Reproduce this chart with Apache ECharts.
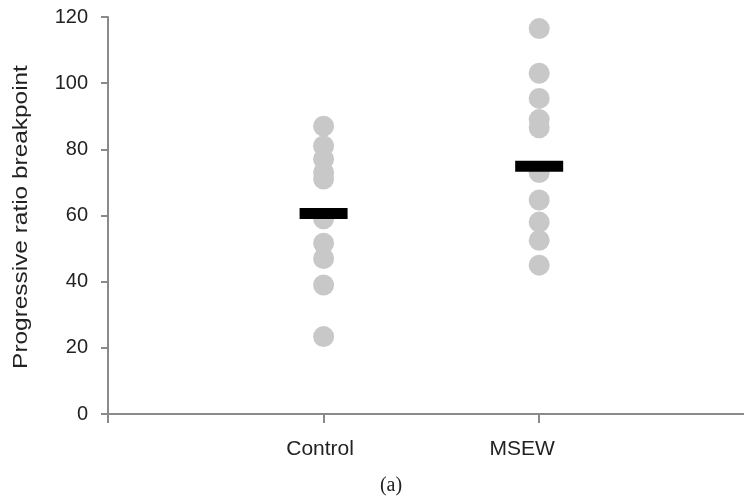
<!DOCTYPE html>
<html>
<head>
<meta charset="utf-8">
<script src="https://cdn.jsdelivr.net/npm/echarts@6/dist/echarts.min.js"></script>
<style>html,body{margin:0;padding:0;background:#fff}#c{width:744px;height:500px}</style>
</head>
<body>
<div id="c"></div>
<script>
const categories = ['Control', 'MSEW'];
const controlValues = [87, 81, 77, 73, 71, 59, 51.6, 47, 39, 23.4];
const msewValues = [116.5, 103, 95.4, 89, 86.5, 73, 64.7, 58, 52.5, 45];
const groupMeans = [60.6, 74.9];
const yTicks = [0, 20, 40, 60, 80, 100, 120];

const dotData = [];
controlValues.forEach(v => dotData.push([1, v]));
msewValues.forEach(v => dotData.push([2, v]));
const meanData = groupMeans.map((v, i) => [i + 1, v]);

const SANS = 'Liberation Sans, Arial, sans-serif';
const chart = echarts.init(document.getElementById('c'));
chart.setOption({
  animation: false,
  backgroundColor: '#fff',
  grid: { left: 108, right: 0, top: 17, bottom: 86 },
  xAxis: {
    type: 'value', min: 0, max: 2.95, interval: 1,
    splitLine: { show: false },
    axisLine: { lineStyle: { color: '#8a8a8a', width: 2 } },
    axisTick: { show: true, length: 9, customValues: [0, 1, 2], lineStyle: { color: '#8a8a8a', width: 2 } },
    axisLabel: {
      customValues: [1, 2],
      margin: 25, fontSize: 21, color: '#222', fontFamily: SANS,
      formatter: v => {
        const i = Math.round(v) - 1;
        return categories[i] ? '{l' + i + '|' + categories[i] + '}' : '';
      },
      rich: {
        l0: { fontSize: 21, color: '#222', fontFamily: SANS, padding: [0, 7, 0, 0] },
        l1: { fontSize: 21, color: '#222', fontFamily: SANS, padding: [0, 34, 0, 0] }
      }
    }
  },
  yAxis: {
    type: 'value', min: yTicks[0], max: yTicks[yTicks.length - 1], interval: 20,
    splitLine: { show: false },
    axisLine: { show: true, lineStyle: { color: '#8a8a8a', width: 2 } },
    axisTick: { show: true, length: 7, lineStyle: { color: '#8a8a8a', width: 2 } },
    axisLabel: { margin: 20, fontSize: 20, color: '#222', fontFamily: SANS }
  },
  graphic: [
    {
      type: 'text', x: 21, y: 217, rotation: Math.PI / 2, scaleX: 1.22,
      style: { text: 'Progressive ratio breakpoint', fontSize: 20, fill: '#222', fontFamily: SANS,
               align: 'center', verticalAlign: 'middle' }
    },
    {
      type: 'text', x: 391, y: 486,
      style: { text: '(a)', fontSize: 20, fill: '#222', fontFamily: 'Liberation Serif, Times New Roman, serif',
               align: 'center', verticalAlign: 'middle' }
    }
  ],
  series: [
    {
      type: 'scatter', data: dotData, symbol: 'circle', symbolSize: 21,
      itemStyle: { color: '#c8c8c8', opacity: 1 }, z: 2
    },
    {
      type: 'scatter', data: meanData, symbol: 'rect', symbolSize: [48, 11],
      itemStyle: { color: '#000', opacity: 1 }, z: 3
    }
  ]
});
</script>
</body>
</html>
